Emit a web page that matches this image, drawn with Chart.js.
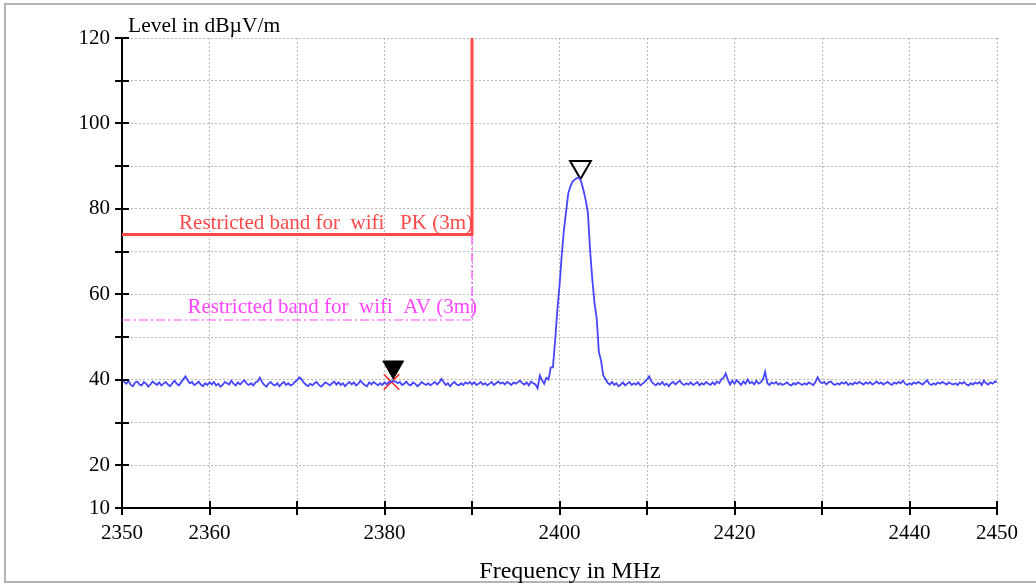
<!DOCTYPE html>
<html>
<head>
<meta charset="utf-8">
<script src="https://cdn.jsdelivr.net/npm/chart.js@4.4.1/dist/chart.umd.min.js"></script>
<style>
  body { margin: 0; background: #fff; }
  canvas { display: block; }
</style>
</head>
<body>
<canvas id="emc" width="1036" height="584"></canvas>
<script>
// sweep: 2350..2450 MHz, 0.25 MHz per point (levels in dBµV/m)
const sweepStart = 2350;
const sweepStep = 0.25;
const levels = [
  40.2,39.5,39.1,39.8,38.8,38.5,39.4,39.6,38.9,38.7,39.5,39.1,38.4,38.9,39.6,39.2,38.8,39.4,38.7,39.1,
  39.5,38.9,38.5,39.2,39.8,39.1,38.7,39.4,40.1,40.8,39.9,39.2,39.5,38.8,39.1,39.6,38.9,38.5,39.2,38.8,
  39.4,38.9,39.5,38.7,39.1,38.4,38.8,39.5,39.2,38.9,39.8,39.1,38.7,39.4,38.9,39.5,39.9,39.1,38.8,39.2,
  38.7,39.4,39.6,40.5,39.5,38.8,38.4,39.1,39.5,38.9,38.7,39.2,38.5,39.1,39.5,38.8,39.2,38.7,38.9,39.5,
  39.9,40.6,40.2,39.4,38.9,38.5,39.1,38.7,39.2,39.5,38.8,38.4,38.9,39.4,39.1,38.7,39.2,39.6,38.9,39.4,
  38.8,39.2,38.5,39.1,39.5,38.9,39.4,38.7,39.1,39.8,39.2,38.8,38.5,39.4,38.9,39.5,39.1,38.7,39.2,38.8,
  39.4,38.9,39.5,39.5,39.7,39.6,39.2,39.5,38.8,39.1,39.6,38.9,38.7,39.4,39.1,38.5,38.9,39.5,39.1,38.8,
  39.2,38.7,39.1,39.5,38.9,39.4,40.2,39.5,38.8,39.2,38.5,39.1,39.5,38.9,38.7,39.2,38.8,39.4,39.1,39.5,
  38.9,39.4,38.8,39.1,39.5,38.9,39.2,38.7,39.1,39.5,38.8,39.2,39.6,39.1,39.4,38.9,39.5,39.2,38.8,39.4,
  39.1,39.5,39.8,39.2,38.9,39.4,38.7,39.6,39.2,38.9,38.0,41.0,39.9,39.1,40.5,40.1,42.9,42.9,49.2,56.2,
  62.0,69.0,75.0,79.3,83.6,85.3,86.4,86.9,87.2,87.3,86.2,84.3,82.0,79.0,70.2,63.5,58.0,54.4,46.5,44.5,
  41.0,40.2,39.3,38.9,39.5,38.8,39.2,38.5,38.9,39.4,38.7,39.1,39.5,38.8,39.2,38.9,39.4,38.7,39.1,39.5,
  40.1,40.8,39.6,39.1,38.7,39.2,38.9,39.5,38.8,39.1,38.5,39.2,39.5,38.9,39.4,39.8,39.1,38.8,39.2,38.9,
  39.4,38.8,39.1,39.5,38.7,39.2,38.9,39.5,39.1,38.8,39.4,38.9,39.6,39.2,40.1,40.5,41.5,39.9,38.9,39.8,
  39.1,39.9,39.4,38.8,39.6,39.1,40.1,39.2,39.5,38.9,39.8,39.1,39.4,40.1,41.9,39.2,38.8,39.4,39.1,39.5,
  38.9,39.2,38.8,39.1,39.4,38.9,38.7,39.2,38.9,39.4,39.1,38.8,39.2,38.9,39.4,39.1,38.8,39.5,40.6,39.6,
  39.2,39.5,38.9,39.4,39.6,39.1,38.8,39.2,38.9,39.4,39.1,39.5,38.8,39.2,38.9,39.4,39.1,39.5,39.2,38.9,
  39.4,39.1,39.5,38.9,39.2,39.6,39.1,39.4,38.9,39.2,39.5,39.1,38.8,39.4,39.1,39.5,39.2,39.8,39.1,38.8,
  39.2,38.9,39.4,39.1,39.5,39.2,38.9,39.4,39.9,39.1,38.8,39.2,38.9,39.4,39.1,39.5,39.2,38.9,39.4,39.1,
  38.9,39.2,38.8,39.4,39.1,39.5,38.9,38.7,39.2,38.9,39.4,39.1,39.5,38.8,39.8,39.2,38.9,39.4,39.1,39.6,
  39.5
];

// limit lines (restricted band edge at 2390 MHz)
const pkLimitFreq = [2350, 2390, 2390];
const pkLimitLevel = [74, 74, 120];
const avLimitFreq = [2350, 2390, 2390];
const avLimitLevel = [54, 54, 74];
const pkLabel = "Restricted band for  wifi   PK (3m)";
const avLabel = "Restricted band for  wifi  AV (3m)";

// markers
const peakMarker = [2402.4, 89.8];
const edgeMarker = [2381.0, 43.0];
const edgeCross = [2380.8, 39.5];

// axis ticks
const xMin = 2350, xMax = 2450, xStep = 10;
const yMin = 10, yMax = 120, yStep = 10;
const xLabelled = [2350, 2360, 2380, 2400, 2420, 2440, 2450];
const yLabelled = [10, 20, 40, 60, 80, 100, 120];

const serif = '"Liberation Serif", "Times New Roman", serif';

const trace = levels.map((v, i) => ({ x: sweepStart + i * sweepStep, y: v }));
const toPts = (fx, fy) => fx.map((f, i) => ({ x: f, y: fy[i] }));

// frame, crossing tick marks, titles, limit labels
const decor = {
  id: "decor",
  beforeDraw(chart) {
    const c = chart.ctx;
    c.save();
    c.strokeStyle = "#b4b4b4";
    c.lineWidth = 2;
    c.strokeRect(5, 4, 1040, 578);
    c.restore();
  },
  afterDraw(chart) {
    const c = chart.ctx;
    const xs = chart.scales.x, ys = chart.scales.y;
    const area = chart.chartArea;
    c.save();
    c.strokeStyle = "#000";
    c.lineWidth = 2;
    c.beginPath();
    xs.ticks.forEach(t => {
      const px = Math.round(xs.getPixelForValue(t.value));
      c.moveTo(px, area.bottom - 7);
      c.lineTo(px, area.bottom + 7);
    });
    ys.ticks.forEach(t => {
      const py = Math.round(ys.getPixelForValue(t.value));
      c.moveTo(area.left - 7, py);
      c.lineTo(area.left + 7, py);
    });
    c.stroke();

    c.fillStyle = "#000";
    c.textBaseline = "alphabetic";
    c.font = "21.5px " + serif;
    c.textAlign = "left";
    c.fillText("Level in dBµV/m", 128, 32);
    c.font = "24px " + serif;
    c.textAlign = "center";
    c.fillText("Frequency in MHz", 570, 578);

    c.font = "21px " + serif;
    const edgeX = xs.getPixelForValue(pkLimitFreq[1]);
    c.textAlign = "right";
    c.fillStyle = "#ff4848";
    c.fillText(pkLabel, edgeX + 1, ys.getPixelForValue(pkLimitLevel[0]) - 6);
    c.fillStyle = "#ff44ff";
    c.fillText(avLabel, edgeX + 5, ys.getPixelForValue(avLimitLevel[0]) - 7);
    c.restore();
  }
};

new Chart(document.getElementById("emc"), {
  type: "line",
  data: {
    datasets: [
      {
        data: trace,
        borderColor: "#4646ff",
        borderWidth: 1.8,
        pointRadius: 0,
        tension: 0
      },
      {
        data: toPts(pkLimitFreq, pkLimitLevel),
        borderColor: "#ff4848",
        borderWidth: 3,
        pointRadius: 0
      },
      {
        data: toPts(avLimitFreq, avLimitLevel),
        borderColor: "#ff44ff",
        borderWidth: 1.2,
        borderDash: [9, 3, 2, 3],
        pointRadius: 0
      },
      {
        data: [{ x: edgeCross[0], y: edgeCross[1] }],
        showLine: false,
        pointStyle: "crossRot",
        pointRadius: 11,
        pointBorderColor: "#ff2020",
        pointBorderWidth: 1.5
      },
      {
        data: [{ x: edgeMarker[0], y: edgeMarker[1] }],
        showLine: false,
        pointStyle: "triangle",
        rotation: 180,
        pointRadius: 12,
        pointBackgroundColor: "#000",
        pointBorderColor: "#000",
        pointBorderWidth: 1
      },
      {
        data: [{ x: peakMarker[0], y: peakMarker[1] }],
        showLine: false,
        pointStyle: "triangle",
        rotation: 180,
        pointRadius: 12,
        pointBackgroundColor: "rgba(0,0,0,0)",
        pointBorderColor: "#000",
        pointBorderWidth: 2
      }
    ]
  },
  options: {
    responsive: false,
    animation: false,
    events: [],
    layout: { padding: { left: 0, top: 38, right: 39, bottom: 0 } },
    plugins: { legend: { display: false }, tooltip: { enabled: false } },
    scales: {
      x: {
        type: "linear",
        min: xMin,
        max: xMax,
        afterFit: s => { s.height = 76; },
        ticks: {
          stepSize: xStep,
          autoSkip: false,
          maxRotation: 0,
          padding: 13,
          color: "#000",
          font: { family: serif, size: 21 },
          callback: v => (xLabelled.includes(v) ? String(v) : "")
        },
        grid: { color: "#b8b8b8", lineWidth: 1, drawTicks: false },
        border: { display: true, color: "#000", width: 2, dash: [2, 2] }
      },
      y: {
        min: yMin,
        max: yMax,
        afterFit: s => { s.width = 122; },
        ticks: {
          stepSize: yStep,
          maxTicksLimit: 20,
          autoSkip: false,
          padding: 12,
          color: "#000",
          font: { family: serif, size: 21 },
          callback: v => (yLabelled.includes(v) ? String(v) : "")
        },
        grid: { color: "#b8b8b8", lineWidth: 1, drawTicks: false },
        border: { display: true, color: "#000", width: 2, dash: [2, 2] }
      }
    }
  },
  plugins: [decor]
});
</script>
</body>
</html>
